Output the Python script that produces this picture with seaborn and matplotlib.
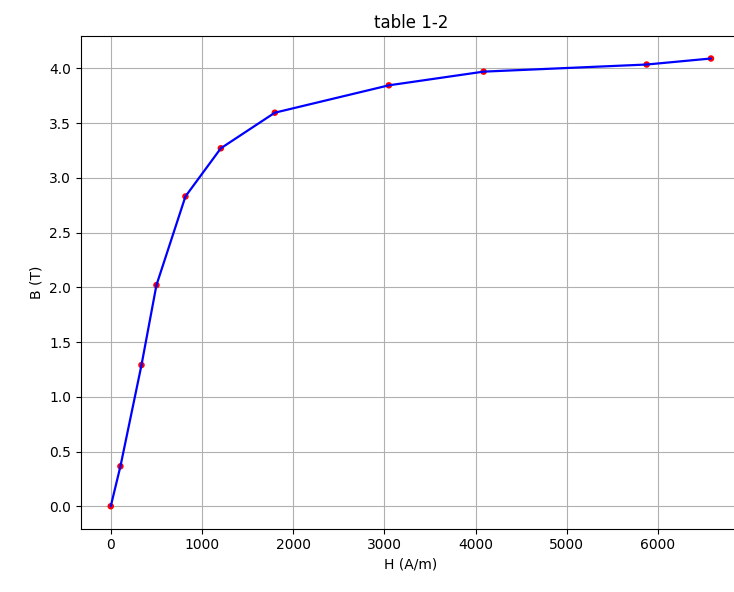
import matplotlib
matplotlib.use("Agg")
import matplotlib.pyplot as plt
import seaborn as sns
import pandas as pd

H = [0, 106, 337, 501, 819, 1207, 1799, 3049, 4088, 5876, 6581]
B = [0.0, 0.365, 1.29, 2.02, 2.83, 3.27, 3.595, 3.845, 3.97, 4.035, 4.09]

sns.set_style("ticks")
plt.rcParams['font.family'] = ['DejaVu Sans']
plt.rcParams['text.color'] = 'black'
plt.rcParams['axes.labelcolor'] = 'black'
plt.rcParams['xtick.color'] = 'black'
plt.rcParams['ytick.color'] = 'black'
df = pd.DataFrame({"H": H, "B": B})

fig, ax = plt.subplots(figsize=(7.34, 5.92), dpi=100)
fig.subplots_adjust(left=0.110, right=1.0095, top=0.939, bottom=0.107)
sns.scatterplot(data=df, x="H", y="B", ax=ax, color="red", s=22, edgecolor="none", zorder=2)
sns.lineplot(data=df, x="H", y="B", ax=ax, color="blue", linewidth=1.6, zorder=3, sort=False)
ax.set_title("table 1-2", fontsize=12, color="black")
ax.set_xlabel("H (A/m)")
ax.set_ylabel("B (T)")
ax.grid(True, color="#b0b0b0", linewidth=0.8)
for s in ax.spines.values():
    s.set_color("black")
    s.set_linewidth(0.8)
ax.tick_params(direction="out", length=3.5, width=0.8, labelsize=10, colors="black")
fig.savefig("out.png", dpi=100)
